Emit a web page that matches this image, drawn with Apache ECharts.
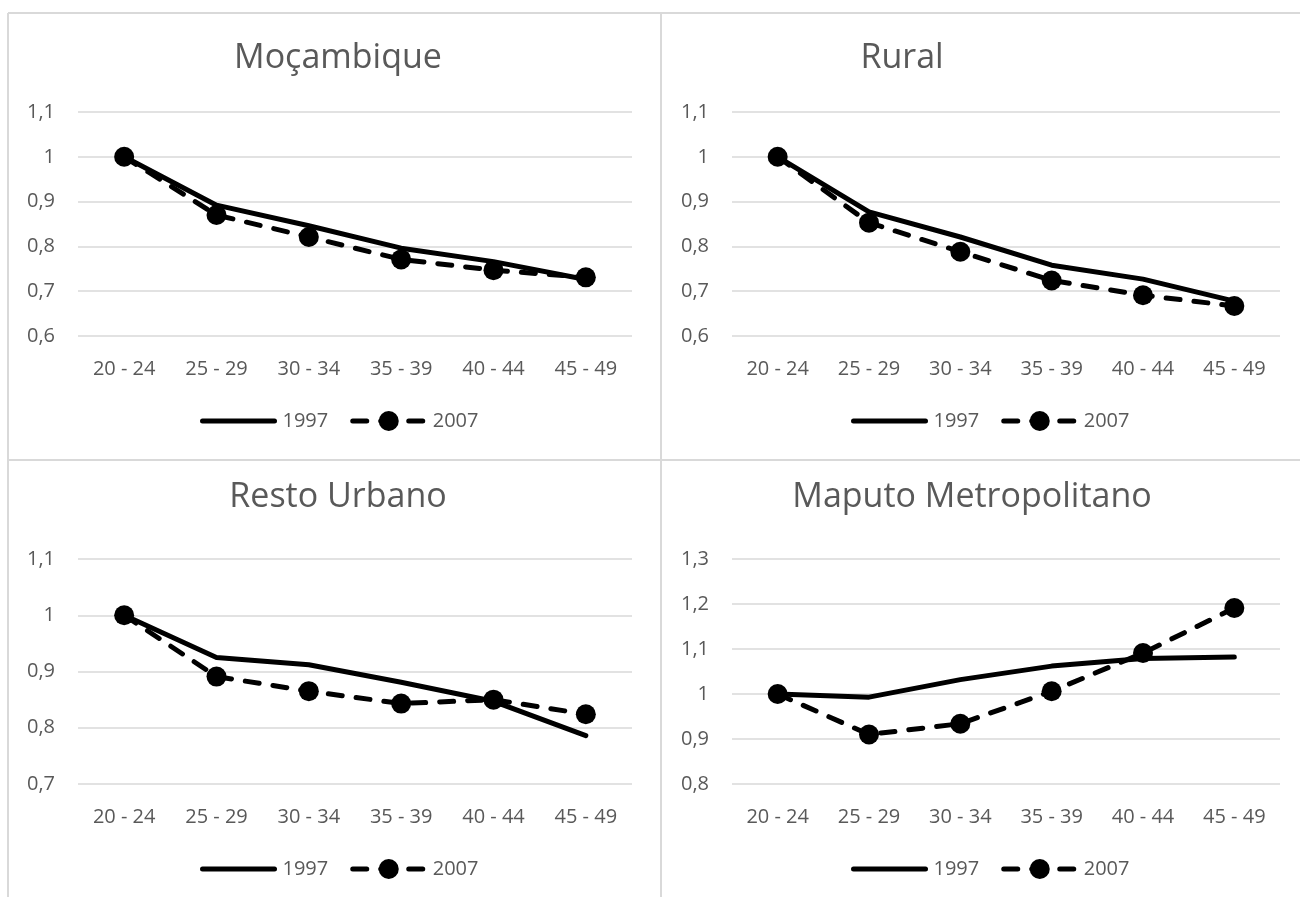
<!DOCTYPE html>
<html>
<head>
<meta charset="utf-8">
<script src="https://cdn.jsdelivr.net/npm/echarts@6/dist/echarts.min.js"></script>
<style>
  html, body { margin: 0; padding: 0; background: #ffffff; }
  #chart { width: 1300px; height: 897px; }
</style>
</head>
<body>
<div id="chart"></div>
<script>
// Age groups on the horizontal axis
const ageGroups = ['20 - 24', '25 - 29', '30 - 34', '35 - 39', '40 - 44', '45 - 49'];

// Relative values by age group, 1997 and 2007
const mocambique1997 = [1.000, 0.892, 0.846, 0.796, 0.766, 0.726];
const mocambique2007 = [1.000, 0.870, 0.821, 0.771, 0.747, 0.731];
const rural1997 = [1.000, 0.877, 0.821, 0.758, 0.727, 0.678];
const rural2007 = [1.000, 0.853, 0.788, 0.724, 0.691, 0.667];
const restoUrbano1997 = [1.000, 0.925, 0.912, 0.881, 0.847, 0.786];
const restoUrbano2007 = [1.000, 0.891, 0.865, 0.843, 0.850, 0.824];
const maputo1997 = [1.000, 0.993, 1.032, 1.062, 1.079, 1.082];
const maputo2007 = [1.000, 0.910, 0.934, 1.006, 1.091, 1.191];

// Panel titles and value-axis ranges
const panelTitles = ['Moçambique', 'Rural', 'Resto Urbano', 'Maputo Metropolitano'];
const axisMin = [0.6, 0.6, 0.7, 0.8];
const axisMax = [1.1, 1.1, 1.1, 1.3];
const axisStep = 0.1;
const seriesNames = ['1997', '2007'];

const panelData = [
  [mocambique1997, mocambique2007],
  [rural1997, rural2007],
  [restoUrbano1997, restoUrbano2007],
  [maputo1997, maputo2007]
];

// Panel geometry
const FONT = '"Open Sans", "Noto Sans", sans-serif';
const TEXT = '#595959';
const RULE = '#d9d9d9';
const LINE_W = 5;
const panels = [
  { gridLeft: 78,  gridWidth: 554, gridTop: 112, gridHeight: 224, cx: 338, titleTop: 41,  legendLeft: 200, legendTop: 411 },
  { gridLeft: 732, gridWidth: 548, gridTop: 112, gridHeight: 224, cx: 902, titleTop: 41,  legendLeft: 851, legendTop: 411 },
  { gridLeft: 78,  gridWidth: 554, gridTop: 559, gridHeight: 225, cx: 338, titleTop: 480, legendLeft: 200, legendTop: 859 },
  { gridLeft: 732, gridWidth: 548, gridTop: 559, gridHeight: 225, cx: 972, titleTop: 480, legendLeft: 851, legendTop: 859 }
];

const fmt = v => String(Math.round(v * 10) / 10).replace('.', ',');

const option = {
  animation: false,
  backgroundColor: '#ffffff',
  title: panels.map((p, i) => ({
    text: panelTitles[i],
    left: p.cx,
    top: p.titleTop,
    textAlign: 'center',
    padding: 0,
    textStyle: { fontFamily: FONT, fontSize: 34, fontWeight: 'normal', color: TEXT }
  })),
  legend: panels.map(p => ({
    data: [
      { name: seriesNames[0], itemStyle: { opacity: 0 } },
      { name: seriesNames[1] }
    ],
    left: p.legendLeft,
    top: p.legendTop,
    orient: 'horizontal',
    itemWidth: 72,
    itemHeight: 25,
    itemGap: 22,
    padding: 0,
    selectedMode: false,
    lineStyle: { width: LINE_W },
    textStyle: { fontFamily: FONT, fontSize: 20, color: TEXT, padding: [0, 0, 0, 3] }
  })),
  grid: panels.map(p => ({
    left: p.gridLeft,
    top: p.gridTop,
    width: p.gridWidth,
    height: p.gridHeight,
    containLabel: false
  })),
  xAxis: panels.map((p, i) => ({
    type: 'category',
    gridIndex: i,
    data: ageGroups,
    boundaryGap: true,
    axisLine: { show: false },
    axisTick: { show: false },
    axisLabel: { fontFamily: FONT, fontSize: 20, color: TEXT, margin: 23 }
  })),
  yAxis: panels.map((p, i) => ({
    type: 'value',
    gridIndex: i,
    min: axisMin[i],
    max: axisMax[i],
    interval: axisStep,
    axisLine: { show: false },
    axisTick: { show: false },
    splitLine: { lineStyle: { color: RULE, width: 1.5 } },
    axisLabel: { fontFamily: FONT, fontSize: 20, color: TEXT, margin: 23, formatter: fmt }
  })),
  series: panelData.flatMap((pair, i) => [
    {
      name: seriesNames[0],
      type: 'line',
      xAxisIndex: i,
      yAxisIndex: i,
      data: pair[0],
      symbol: 'none',
      lineStyle: { color: '#000000', width: LINE_W, cap: 'round', join: 'round' },
      itemStyle: { color: '#000000' }
    },
    {
      name: seriesNames[1],
      type: 'line',
      xAxisIndex: i,
      yAxisIndex: i,
      data: pair[1],
      symbol: 'circle',
      symbolSize: 20,
      showSymbol: true,
      lineStyle: { color: '#000000', width: LINE_W, type: [14, 14], cap: 'round', join: 'round' },
      itemStyle: { color: '#000000' }
    }
  ]),
  // Frame lines around the four panels
  graphic: [
    { type: 'line', shape: { x1: 8, y1: 13, x2: 1300, y2: 13 }, style: { stroke: RULE, lineWidth: 2 }, silent: true },
    { type: 'line', shape: { x1: 8, y1: 13, x2: 8, y2: 897 }, style: { stroke: RULE, lineWidth: 2 }, silent: true },
    { type: 'line', shape: { x1: 661, y1: 13, x2: 661, y2: 897 }, style: { stroke: RULE, lineWidth: 2 }, silent: true },
    { type: 'line', shape: { x1: 8, y1: 460, x2: 1300, y2: 460 }, style: { stroke: RULE, lineWidth: 2 }, silent: true }
  ]
};

const chart = echarts.init(document.getElementById('chart'), null, { renderer: 'canvas' });
chart.setOption(option);
</script>
</body>
</html>
